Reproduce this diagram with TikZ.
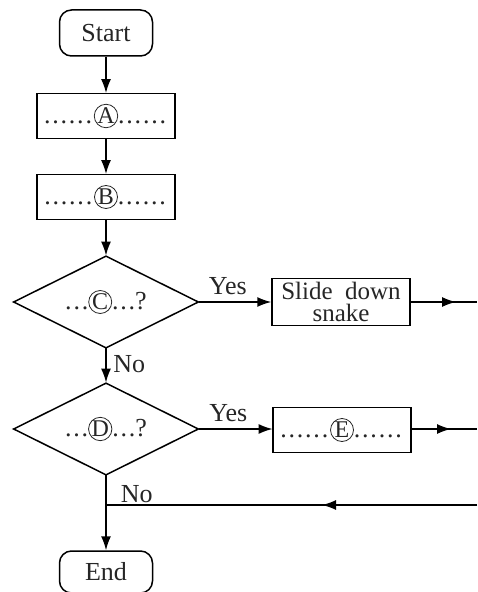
\documentclass[tikz,border=0pt]{standalone}
\usepackage{fontspec}
\setmainfont{Liberation Serif}
\usetikzlibrary{shapes.geometric,arrows.meta}
\newcommand{\circled}[1]{\tikz[baseline=(ch.base)]\node[circle,draw,inner sep=0pt,minimum size=11.5pt,font=\fontsize{12}{12}\selectfont](ch){#1};}
\newcommand{\dd}{.\kern0.9pt}
\newcommand{\sixdots}{\dd\dd\dd\dd\dd\dd}
\begin{document}
\begin{tikzpicture}[x=0.5pt,y=-0.5pt,line width=0.75pt,
  every node/.style={font=\fontsize{13}{13}\selectfont,text=black!85},
  term/.style={draw,rounded corners=6pt,minimum width=46.5pt,minimum height=23pt,inner sep=0pt},
  stepbox/.style={draw,minimum width=69pt,minimum height=22.5pt,inner sep=0pt},
  ask/.style={draw,diamond,aspect=2,minimum width=92.5pt,minimum height=46pt,inner sep=0pt},
  arr/.style={-{Latex[length=7pt,width=5pt]}}]
\useasboundingbox (0,0) rectangle (477,592);
\node[term] (start) at (106,33) {Start};
\node[stepbox] (stepA) at (106,116) {\sixdots\circled{A}\sixdots};
\node[stepbox] (stepB) at (106,197) {\sixdots\circled{B}\sixdots};
\node[ask] (askC) at (106,302) {\dd\dd.\circled{C}\dd\dd.?};
\node[stepbox,align=center,minimum height=23.5pt,font=\fontsize{12.5}{11}\selectfont] (slide) at (341,302) {Slide\ \ down\\snake};
\node[ask] (askD) at (106,429) {\dd\dd.\circled{D}\dd\dd.?};
\node[stepbox] (stepE) at (342,430) {\sixdots\circled{E}\sixdots};
\node[term,minimum height=21pt] (finish) at (106,572) {End};
% right edge and return line
\coordinate (outC) at (477,302);
\coordinate (midC) at (456,302);
\coordinate (outE) at (477,429);
\coordinate (midE) at (451,429);
\coordinate (back) at (477,505);
\coordinate (midB) at (322,505);
\coordinate (join) at (106,505);
\draw[arr] (start) -- (stepA);
\draw[arr] (stepA) -- (stepB);
\draw[arr] (stepB) -- (askC);
\draw[arr] (askC) -- node[above,pos=0.4] {Yes} (slide);
\draw[arr] (askC) -- node[right,pos=0.45] {No} (askD);
\draw[arr] (askD) -- node[above,pos=0.4] {Yes} (askD -| stepE.west);
\draw (slide) -- (outC);
\draw[arr] (slide) -- (midC);
\draw (stepE.east |- outE) -- (outE);
\draw[arr] (stepE.east |- outE) -- (midE);
\draw (back) -- (join);
\draw[arr] (back) -- (midB);
\draw (askD.south) -- (join) node[anchor=south west,inner sep=1pt,xshift=6pt] {No};
\draw[arr] (join) -- (finish);
\end{tikzpicture}
\end{document}
